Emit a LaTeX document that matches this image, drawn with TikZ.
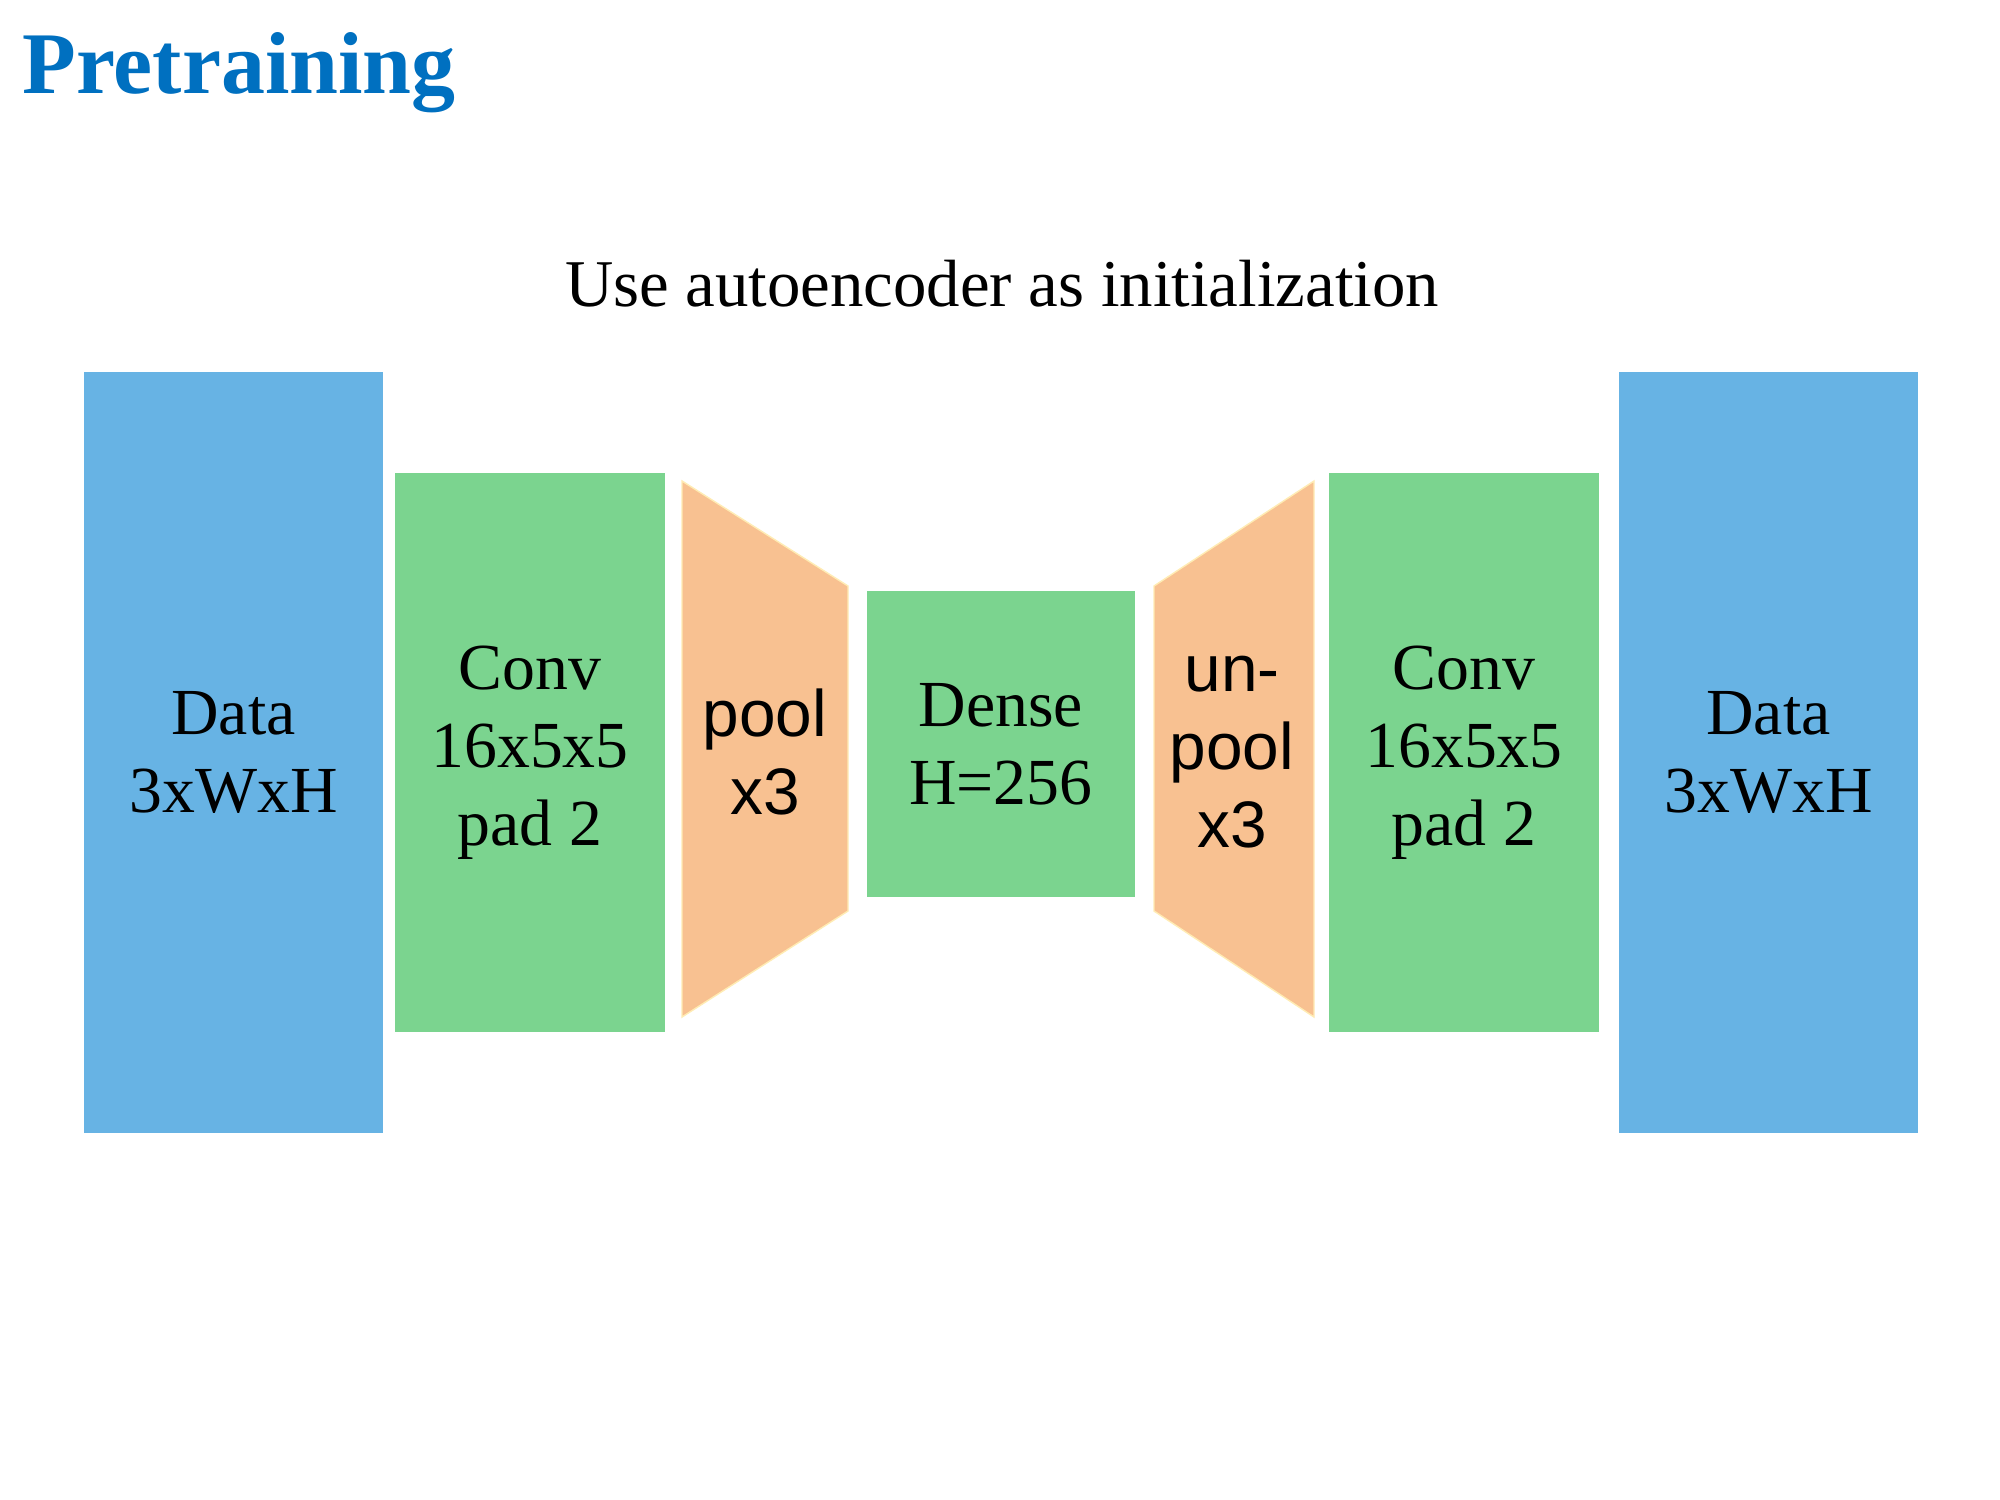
\documentclass[tikz,border=0pt]{standalone}
\usepackage{fontspec}
\setmainfont{Liberation Serif}
\setsansfont{Liberation Sans}
\definecolor{titleblue}{RGB}{0,112,192}
\definecolor{datablue}{RGB}{103,179,228}
\definecolor{layergreen}{RGB}{123,212,143}
\definecolor{poolorange}{RGB}{248,193,145}
\definecolor{pooledge}{RGB}{255,236,180}
\tikzset{
  px/.style={x=0.01cm,y=-0.01cm},
  blk/.style={rectangle, inner sep=0pt, outer sep=0pt, align=center,
     font=\fontsize{18.7}{22.2}\selectfont},
  datablk/.style={blk, fill=datablue, minimum width=2.99cm, minimum height=7.61cm},
  convblk/.style={blk, fill=layergreen, minimum width=2.70cm, minimum height=5.59cm},
  denseblk/.style={blk, fill=layergreen, minimum width=2.68cm, minimum height=3.06cm},
  trap/.style={fill=poolorange, draw=pooledge, line width=0.4pt},
  traplabel/.style={align=center, inner sep=0pt, font=\sffamily\fontsize{18.7}{22.2}\selectfont},
}
\begin{document}
\begin{tikzpicture}[px]
\useasboundingbox (0,0) rectangle (2000,1500);
\fill[white] (0,0) rectangle (2000,1500);

\node[anchor=base west, inner sep=0pt, text=titleblue,
      font=\bfseries\fontsize{25}{30}\selectfont] (title) at (22,94) {Pretraining};
\node[anchor=base, inner sep=0pt, font=\fontsize{19}{23}\selectfont] (subtitle) at (1002,306)
  {Use autoencoder as initialization};

\node[datablk] (data1) at (233.5,752.5) {Data\\3xWxH};
\node[convblk] (conv1) at (530,752.5) {Conv\\16x5x5\\pad 2};
\path[trap] (682,481) -- (848,586) -- (848,911) -- (682,1017) -- cycle;
\node[traplabel] (pool) at (765,752) {pool\\x3};
\node[denseblk] (dense) at (1001,744) {Dense\\H=256};
\path[trap] (1154,586) -- (1314,481) -- (1314,1017) -- (1154,911) -- cycle;
\node[traplabel] (unpool) at (1232,752) {un-\\pool\\x3};
\node[convblk] (conv2) at (1464,752.5) {Conv\\16x5x5\\pad 2};
\node[datablk] (data2) at (1768.5,752.5) {Data\\3xWxH};
\end{tikzpicture}
\end{document}
